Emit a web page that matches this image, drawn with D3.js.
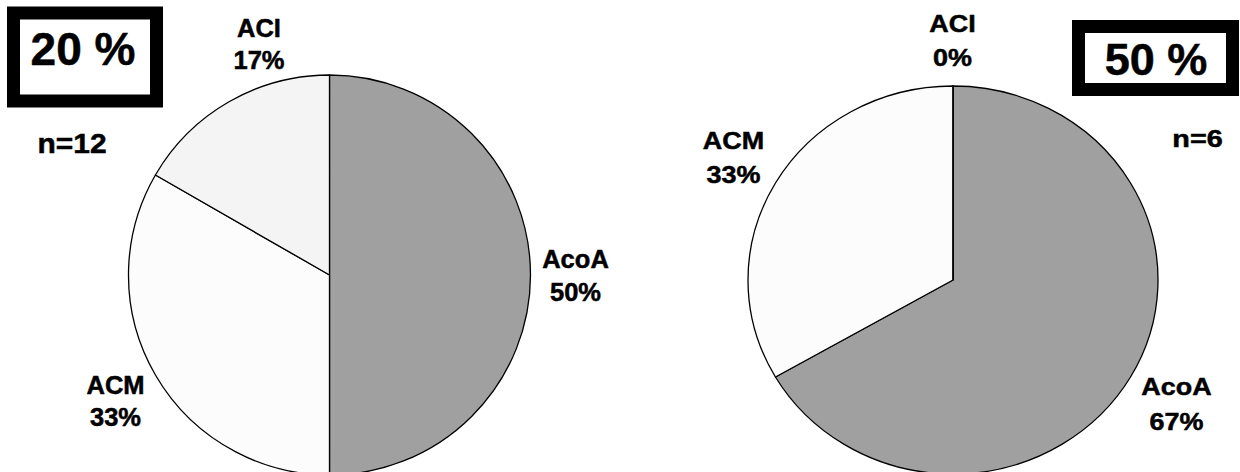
<!DOCTYPE html>
<html><head><meta charset="utf-8">
<script src="https://cdn.jsdelivr.net/npm/d3@7"></script>
<style>
body{margin:0;background:#fff}
svg{display:block}
text{font-family:"Liberation Sans",Arial,Helvetica,sans-serif;font-weight:bold;fill:#000;stroke:#000;stroke-width:0.5px}
</style>
</head><body>
<svg id="c" width="1240" height="472"></svg>
<script>
// ---- data ----
const categories = ["AcoA", "ACM", "ACI"];
const countsLeft = [6, 4, 2];     // n=12
const countsRight = [4, 2, 0];    // n=6
const pctLeft = ["50%", "33%", "17%"];
const pctRight = ["67%", "33%", "0%"];
const panelTitles = ["20 %", "50 %"];
const sampleLabels = ["n=12", "n=6"];

// ---- layout / style ----
const colorScale = d3.scaleOrdinal().domain(categories).range(["#a0a0a0", "#fcfcfc", "#f4f4f4"]);
const panels = [
  { counts: countsLeft, pct: pctLeft, title: panelTitles[0], n: sampleLabels[0],
    cx: 329.5, cy: 275, rx: 201, ry: 200,
    box: { x: 13.5, y: 13, w: 143, h: 88 }, titlePos: { x: 83, y: 65, size: 46 },
    nPos: { x: 72, y: 153, size: 28, sx: 1.07 },
    labelSize: 25, labelSx: 1.02,
    labels: { AcoA: [575.5, 268, 33], ACM: [115.5, 394, 32], ACI: [259, 37, 32] } },
  { counts: countsRight, pct: pctRight, title: panelTitles[1], n: sampleLabels[1],
    cx: 953, cy: 280, rx: 205, ry: 194,
    box: { x: 1078.5, y: 26.5, w: 154, h: 63 }, titlePos: { x: 1156, y: 75, size: 45 },
    nPos: { x: 1197.5, y: 147, size: 24, sx: 1.2 },
    labelSize: 24.5, labelSx: 1.1,
    labels: { AcoA: [1176.5, 395, 35], ACM: [733.5, 149, 34], ACI: [952.5, 32, 34] } }
];

const svg = d3.select("#c");
const pie = d3.pie().sort(null).value(d => d.v).startAngle(0).endAngle(2 * Math.PI);

panels.forEach(p => {
  const data = categories.map((c, i) => ({ c, v: p.counts[i], pct: p.pct[i] }));
  const arcs = pie(data);
  const arc = d3.arc().innerRadius(0).outerRadius(p.ry);
  const g = svg.append("g").attr("transform", `translate(${p.cx},${p.cy}) scale(${p.rx / p.ry},1)`);
  g.selectAll("path").data(arcs).join("path")
    .attr("d", arc)
    .attr("fill", d => colorScale(d.data.c))
    .attr("stroke", "#000")
    .attr("stroke-width", 1.3)
    .attr("stroke-linejoin", "round")
    .attr("vector-effect", "non-scaling-stroke");

  // labels
  arcs.forEach(a => {
    const [x, y, gap] = p.labels[a.data.c];
    const lg = svg.append("g").attr("transform", `translate(${x},${y}) scale(${p.labelSx},1)`);
    const t = lg.append("text").attr("text-anchor", "middle").style("font-size", p.labelSize + "px");
    t.append("tspan").attr("x", 0).attr("y", 0).text(a.data.c);
    t.append("tspan").attr("x", 0).attr("y", gap).text(a.data.pct);
  });

  // title box
  svg.append("rect")
    .attr("x", p.box.x).attr("y", p.box.y).attr("width", p.box.w).attr("height", p.box.h)
    .attr("fill", "#fff").attr("stroke", "#000").attr("stroke-width", 13);
  svg.append("text").attr("x", p.titlePos.x).attr("y", p.titlePos.y)
    .attr("text-anchor", "middle").style("font-size", p.titlePos.size + "px").text(p.title);

  // n label
  svg.append("g").attr("transform", `translate(${p.nPos.x},${p.nPos.y}) scale(${p.nPos.sx},1)`)
    .append("text").attr("text-anchor", "middle").style("font-size", p.nPos.size + "px").text(p.n);
});
</script>
</body></html>
